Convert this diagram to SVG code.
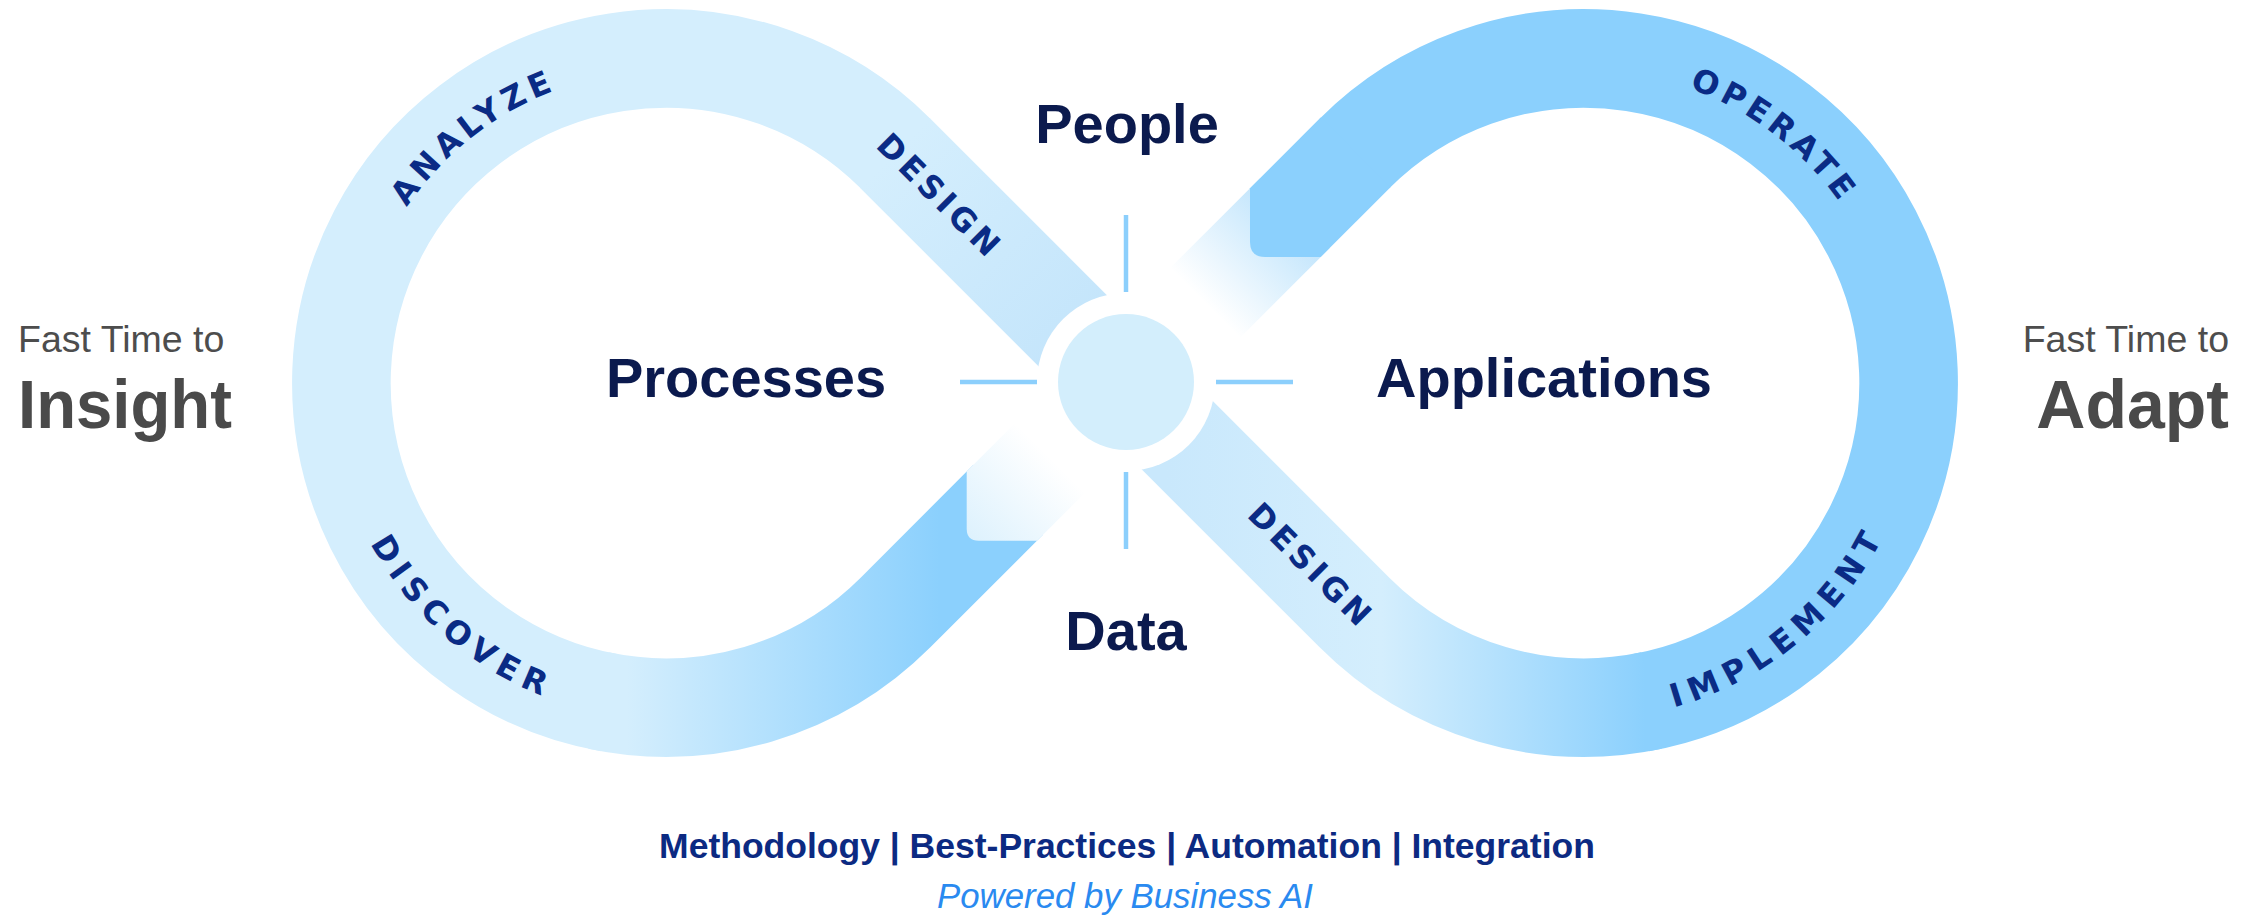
<svg xmlns="http://www.w3.org/2000/svg" width="2260" height="916" viewBox="0 0 2260 916">
  <style>
    .band { fill: none; stroke-width: 98.6; stroke-linecap: butt; }
    .pale { stroke: #d4eefd; }
    .strong { stroke: #8bd0fd; }
    .tick { stroke: #8ccffc; stroke-width: 4.5; }
    .hub-label { font-family: "Liberation Sans", Arial, sans-serif; font-weight: 700; font-size: 56px; fill: #0b1a4e; text-anchor: middle; }
    .phase { font-family: "DejaVu Sans", "Liberation Sans", sans-serif; font-weight: 700; font-size: 32px; fill: #0a2b85; }
    .side-small { font-family: "Liberation Sans", Arial, sans-serif; font-size: 37.5px; fill: #4d4d4d; }
    .side-big { font-family: "Liberation Sans", Arial, sans-serif; font-weight: 700; font-size: 68px; fill: #4a4a4a; }
    .foot { font-family: "Liberation Sans", Arial, sans-serif; text-anchor: middle; }
  </style>
  <defs>
    <linearGradient id="gB" gradientUnits="userSpaceOnUse" x1="627" y1="0" x2="940" y2="0">
      <stop offset="0" stop-color="#d4eefd"/>
      <stop offset="1" stop-color="#8bd0fd"/>
    </linearGradient>
    <linearGradient id="gC2" gradientUnits="userSpaceOnUse" x1="1167" y1="0" x2="1645" y2="0">
      <stop offset="0" stop-color="#c9e8fc"/>
      <stop offset="0.45" stop-color="#d4eefd"/>
      <stop offset="1" stop-color="#8bd0fd"/>
    </linearGradient>
    <linearGradient id="gD" gradientUnits="userSpaceOnUse" x1="895" y1="153" x2="1083" y2="341">
      <stop offset="0" stop-color="#d4eefd"/>
      <stop offset="1" stop-color="#c4e5fb"/>
    </linearGradient>
    <linearGradient id="gF1" gradientUnits="userSpaceOnUse" x1="967" y1="541" x2="1050" y2="458">
      <stop offset="0" stop-color="#dcf1fd"/>
      <stop offset="1" stop-color="#ffffff"/>
    </linearGradient>
    <linearGradient id="gF2" gradientUnits="userSpaceOnUse" x1="1205" y1="303" x2="1290" y2="218">
      <stop offset="0" stop-color="#ffffff"/>
      <stop offset="1" stop-color="#c2e5fc"/>
    </linearGradient>
    <path id="pAnalyze" d="M 355.3 344.9 A 313 313 0 0 1 704.1 72.3"/>
    <path id="pOperate" d="M 1543.1 72.7 A 313 313 0 0 1 1894.3 342.1"/>
    <path id="pDiscover" d="M 330.4 406.5 A 336.4 336.4 0 0 0 689.5 718.6"/>
    <path id="pImplement" d="M 1551.8 717.9 A 336.4 336.4 0 0 0 1918.9 415.2"/>
  </defs>

  <rect x="0" y="0" width="2260" height="916" fill="#ffffff"/>

  <g id="loop-left">
    <path class="band pale" d="M 895.5 153.5 A 324.6 324.6 0 1 0 609.6 702.7"/>
    <path class="band" stroke="url(#gB)" d="M 598.5 700.5 A 324.6 324.6 0 0 0 895.5 612.5 L 1008.3 499.7"/>
    <path fill="url(#gF1)" d="M 1047.7 390.5 L 966.7 471.6 L 966.7 528.7 Q 966.7 540.7 978.7 540.7 L 1037 540.7 L 1117.5 460.3 Z"/>
    <path class="band" stroke="url(#gD)" d="M 894.8 152.8 L 1082.6 340.6"/>
  </g>

  <g id="loop-right">
    <path class="band strong" d="M 1354.5 153.5 A 324.6 324.6 0 1 1 1640.4 702.7"/>
    <path class="band" stroke="url(#gC2)" d="M 1651.5 700.5 A 324.6 324.6 0 0 1 1354.5 612.5 L 1167.4 425.4"/>
    <path fill="url(#gF2)" d="M 1132.5 305.7 L 1259.8 178.4 L 1329.6 248.2 L 1202.3 375.5 Z"/>
    <path fill="#8bd0fd" d="M 1250 188.3 L 1250 242 Q 1250 257 1265 257 L 1320.7 257 L 1390.5 187.3 L 1320.7 117.5 Z"/>
  </g>

  <g id="hub">
    <circle cx="1126" cy="382" r="89" fill="#ffffff"/>
    <circle cx="1126" cy="382" r="68" fill="#d3eefc"/>
  </g>

  <g id="connectors">
    <line class="tick" x1="1126" y1="215" x2="1126" y2="292"/>
    <line class="tick" x1="1126" y1="472" x2="1126" y2="549"/>
    <line class="tick" x1="960" y1="382" x2="1037" y2="382"/>
    <line class="tick" x1="1216" y1="382" x2="1293" y2="382"/>
  </g>

  <g id="phase-labels">
    <text class="phase" letter-spacing="5" text-anchor="middle"><textPath href="#pAnalyze" startOffset="50%">ANALYZE</textPath></text>
    <text class="phase" letter-spacing="4.6" text-anchor="middle"><textPath href="#pOperate" startOffset="50%">OPERATE</textPath></text>
    <text class="phase" letter-spacing="7.3" text-anchor="middle"><textPath href="#pDiscover" startOffset="50%">DISCOVER</textPath></text>
    <text class="phase" letter-spacing="7.8" text-anchor="middle"><textPath href="#pImplement" startOffset="50%">IMPLEMENT</textPath></text>
    <text class="phase" letter-spacing="4.3" text-anchor="middle" transform="translate(930.6 202.6) rotate(45)" x="2" y="0">DESIGN</text>
    <text class="phase" letter-spacing="4.3" text-anchor="middle" transform="translate(1301.9 572.3) rotate(45)" x="2" y="0">DESIGN</text>
  </g>

  <g id="people"><text class="hub-label" x="1127" y="143">People</text></g>
  <g id="processes"><text class="hub-label" x="746" y="397">Processes</text></g>
  <g id="applications"><text class="hub-label" x="1544" y="397">Applications</text></g>
  <g id="data"><text class="hub-label" x="1126" y="650">Data</text></g>

  <g id="insight">
    <text class="side-small" x="18" y="352">Fast Time to</text>
    <text class="side-big" x="18" y="428" textLength="214" lengthAdjust="spacingAndGlyphs">Insight</text>
  </g>
  <g id="adapt">
    <text class="side-small" x="2229" y="352" text-anchor="end">Fast Time to</text>
    <text class="side-big" x="2229" y="428" text-anchor="end">Adapt</text>
  </g>

  <g id="footer">
    <text class="foot" x="1127" y="858" font-size="35.5" font-weight="700" fill="#0c2a82">Methodology | Best-Practices | Automation | Integration</text>
    <text class="foot" x="1125" y="908" font-size="34.8" font-style="italic" fill="#2a8af0">Powered by Business AI</text>
  </g>
</svg>
